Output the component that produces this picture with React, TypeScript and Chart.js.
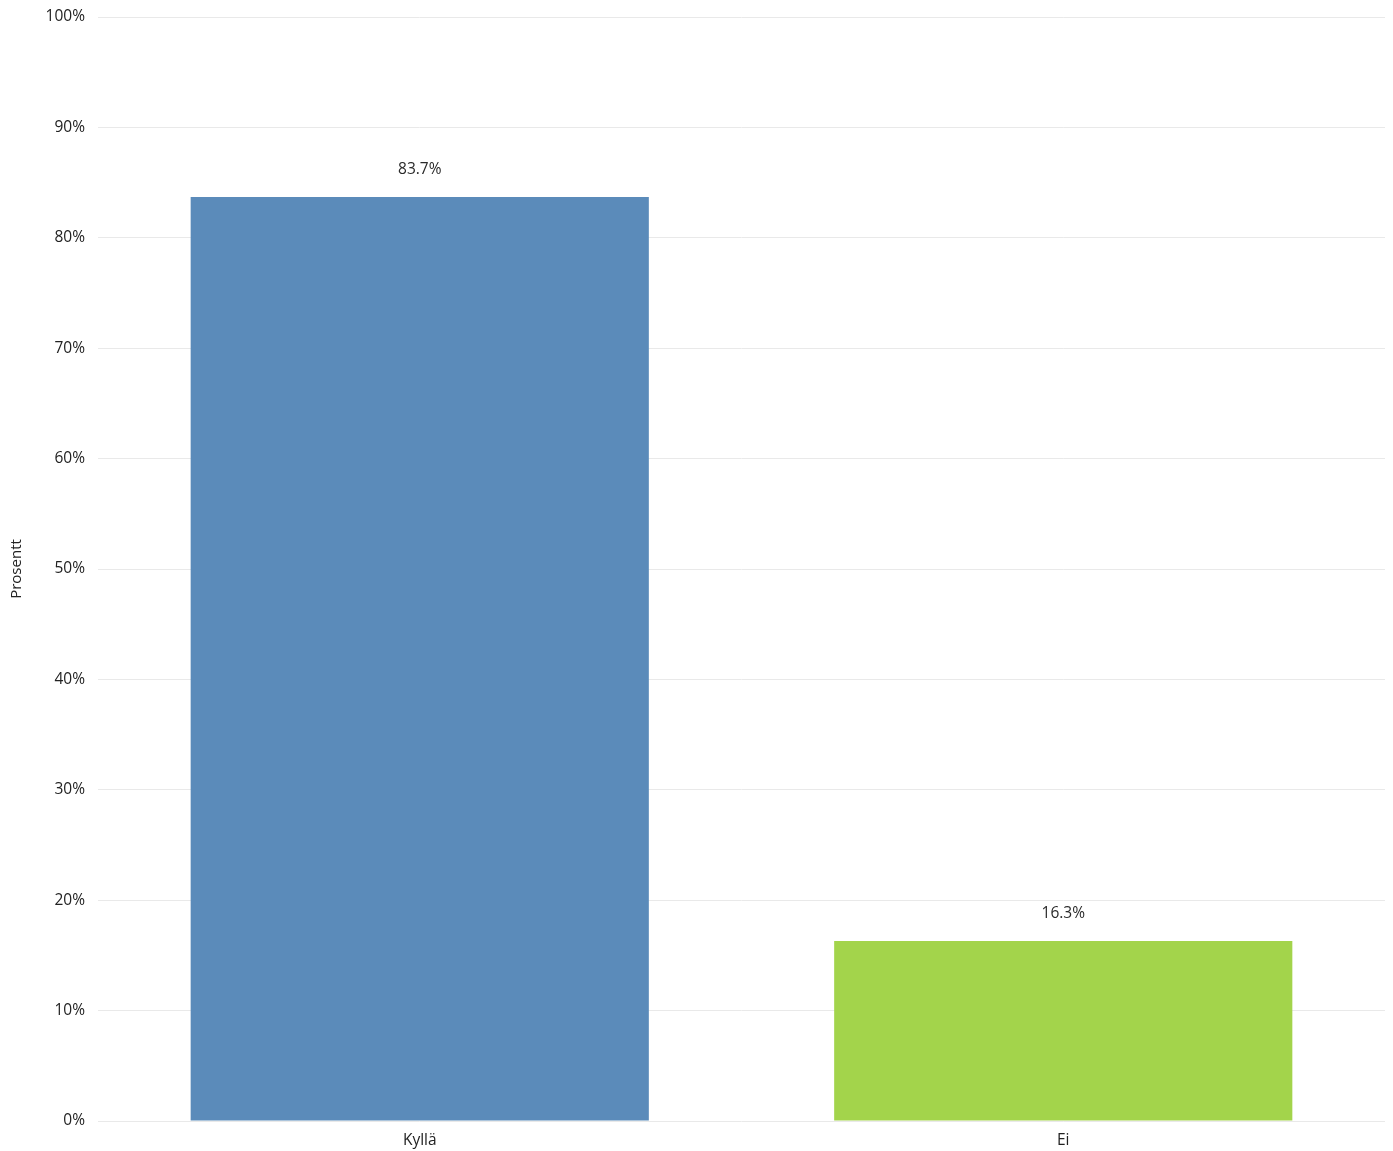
import React, { useEffect, useRef } from "react";
import { Chart, registerables } from "chart.js";

Chart.register(...registerables);

const categories = ["Kyllä", "Ei"];
const values = [83.7, 16.3];
const barColors = ["#5b8bba", "#a3d44b"];
const yTicks = [0, 10, 20, 30, 40, 50, 60, 70, 80, 90, 100];
const yTitle = "Prosentt";

const FONT = "'Open Sans', 'DejaVu Sans', sans-serif";

const labelPlugin = {
  id: "barLabels",
  afterDatasetsDraw(chart: any) {
    const ctx = chart.ctx;
    const meta = chart.getDatasetMeta(0);
    ctx.save();
    ctx.font = `15.5px ${FONT}`;
    ctx.fillStyle = "#2a2a2a";
    ctx.textAlign = "center";
    ctx.textBaseline = "middle";
    meta.data.forEach((el: any, i: number) => {
      ctx.fillText(values[i].toFixed(1) + "%", el.x, el.y - 27);
    });
    ctx.restore();
  },
};

export default function App() {
  const ref = useRef<HTMLCanvasElement>(null);
  useEffect(() => {
    document.body.style.margin = "0";
    const chart = new Chart(ref.current as HTMLCanvasElement, {
      type: "bar",
      data: {
        labels: categories,
        datasets: [
          {
            data: values,
            backgroundColor: barColors,
            barPercentage: 0.712,
            categoryPercentage: 1,
          },
        ],
      },
      options: {
        animation: false,
        responsive: false,
        maintainAspectRatio: false,
        layout: { padding: { top: 17, right: 8, bottom: 0, left: 0 } },
        plugins: {
          legend: { display: false },
          tooltip: { enabled: false },
        },
        scales: {
          x: {
            grid: { display: false },
            border: { display: false },
            ticks: {
              color: "#222222",
              font: { family: FONT, size: 15.5 },
              padding: 2,
            },
            afterFit(scale: any) {
              scale.height = 30;
            },
          },
          y: {
            min: 0,
            max: 100,
            afterBuildTicks(scale: any) {
              scale.ticks = yTicks.map((v) => ({ value: v }));
            },
            grid: { color: "#e9e9e9", lineWidth: 1, drawTicks: false },
            border: { display: false },
            ticks: {
              color: "#222222",
              font: { family: FONT, size: 15.5 },
              padding: 13,
              callback: (v: any) => v + "%",
            },
            title: {
              display: true,
              text: yTitle,
              color: "#222222",
              font: { family: FONT, size: 15 },
              padding: { top: 8, bottom: 4 },
            },
            afterFit(scale: any) {
              scale.width = 98;
              scale.paddingTop = 0;
              scale.paddingBottom = 0;
            },
          },
        },
      },
      plugins: [labelPlugin],
    });
    return () => chart.destroy();
  }, []);
  return (
    <div style={{ position: "absolute", left: 0, top: 0, width: 1393, height: 1151, background: "#fff" }}>
      <canvas ref={ref} width={1393} height={1151} style={{ width: 1393, height: 1151 }} />
    </div>
  );
}
